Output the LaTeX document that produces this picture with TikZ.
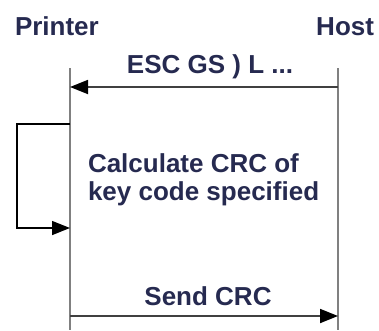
\documentclass[tikz,border=0pt]{standalone}
\usepackage{fontspec}
\setmainfont{Liberation Sans}
\usetikzlibrary{arrows.meta}
\definecolor{txtc}{RGB}{38,42,80}
\begin{document}
\begin{tikzpicture}[x=1pt,y=-1pt,
  lbl/.style={inner sep=0pt,outer sep=0pt,text=txtc,font=\fontsize{26}{28}\selectfont\bfseries},
  life/.style={draw=black!50,line width=2.6pt},
  msg/.style={draw=black!75,line width=1.8pt,-{Triangle[length=18pt,width=14pt,color=black]}},
  loopline/.style={draw=black,line width=1.5pt,-{Triangle[length=18pt,width=14pt]}}]
\useasboundingbox (0,0) rectangle (379,330);
% labels
\node[lbl,anchor=base west] (printer) at (15,35) {Printer};
\node[lbl,anchor=base east] (host) at (374,35) {Host};
% lifelines
\coordinate (p0) at (70,68);
\coordinate (p1) at (70,330);
\coordinate (h0) at (338,68);
\coordinate (h1) at (338,330);
\draw[life] (p0) -- (p1);
\draw[life] (h0) -- (h1);
% message 1
\coordinate (h1m) at (338,87);
\coordinate (p1m) at (70,87);
\draw[msg] (h1m) -- (p1m);
\node[lbl,anchor=base] (esc) at (210,73) {ESC GS ) L ...};
% self loop
\coordinate (ls) at (70,124);
\coordinate (lc) at (17,124);
\coordinate (le) at (70,228);
\draw[loopline] (ls) -- (lc) |- (le);
\node[lbl,anchor=base west,align=left] (calc) at (88,200) {Calculate CRC of\\key code specified};
% message 2
\coordinate (p2m) at (70,316);
\coordinate (h2m) at (338,316);
\draw[msg] (p2m) -- (h2m);
\node[lbl,anchor=base] (send) at (208,305) {Send CRC};
\end{tikzpicture}
\end{document}
